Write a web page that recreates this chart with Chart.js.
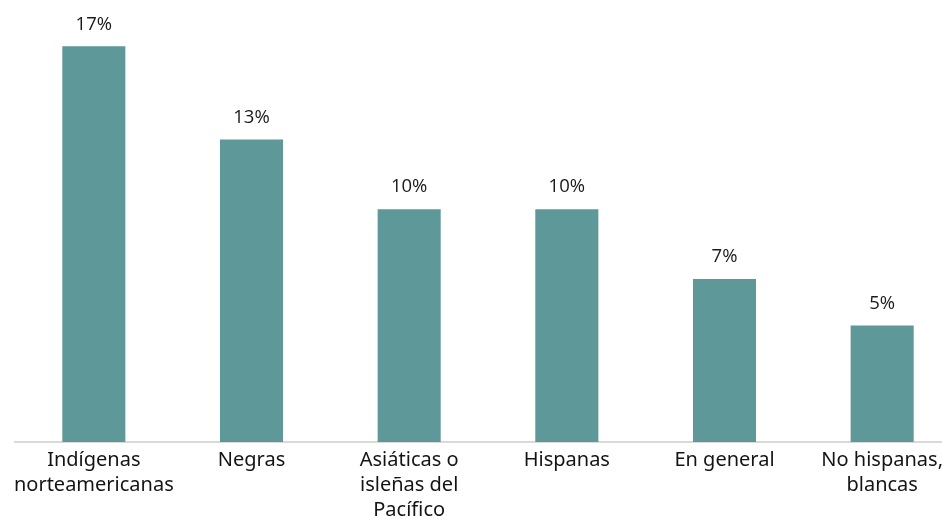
<!DOCTYPE html>
<html>
<head>
<meta charset="utf-8">
<script src="https://cdn.jsdelivr.net/npm/chart.js@4/dist/chart.umd.min.js"></script>
<style>
  html, body { margin: 0; padding: 0; background: #fff; overflow: hidden; }
  #wrap { width: 961px; height: 519px; }
</style>
</head>
<body>
<div id="wrap"><canvas id="chart"></canvas></div>
<script>
const categories = [
    ['Indígenas', 'norteamericanas'],
    'Negras',
    ['Asiáticas o', 'isleñas del', 'Pacífico'],
    'Hispanas',
    'En general',
    ['No hispanas,', 'blancas']
];
const values = [17, 13, 10, 10, 7, 5];
const valueLabels = ['17%', '13%', '10%', '10%', '7%', '5%'];

// draws the percent above each bar
const barLabels = {
    id: 'barLabels',
    afterDatasetsDraw(chart) {
        const ctx = chart.ctx;
        const meta = chart.getDatasetMeta(0);
        ctx.save();
        ctx.font = '18.5px "Open Sans", sans-serif';
        ctx.fillStyle = '#1a1a1a';
        ctx.textAlign = 'center';
        ctx.textBaseline = 'middle';
        meta.data.forEach((bar, i) => {
            ctx.fillText(valueLabels[i], bar.x, bar.y - 22);
        });
        ctx.restore();
    }
};

new Chart(document.querySelector('#chart').getContext('2d'), {
    type: 'bar',
    data: {
        labels: categories,
        datasets: [{
            data: values,
            backgroundColor: '#5e9898',
            barPercentage: 0.4,
            categoryPercentage: 1
        }]
    },
    options: {
        responsive: true,
        maintainAspectRatio: false,
        animation: false,
        layout: { padding: { left: 15, right: 0, top: 23, bottom: 0 } },
        plugins: { legend: { display: false }, tooltip: { enabled: false } },
        scales: {
            x: {
                grid: { drawOnChartArea: false, drawTicks: false, color: 'rgba(0,0,0,0)' },
                border: { display: true, color: '#d9d9d9', width: 2 },
                ticks: {
                    color: '#141414',
                    padding: 6,
                    maxRotation: 0,
                    autoSkip: false,
                    font: { family: '"Noto Sans"', size: 20, lineHeight: 1.25 }
                },
                afterFit(scale) { scale.height = 77; }
            },
            y: {
                display: false,
                min: 0,
                max: 18
            }
        }
    },
    plugins: [barLabels]
});
</script>
</body>
</html>
